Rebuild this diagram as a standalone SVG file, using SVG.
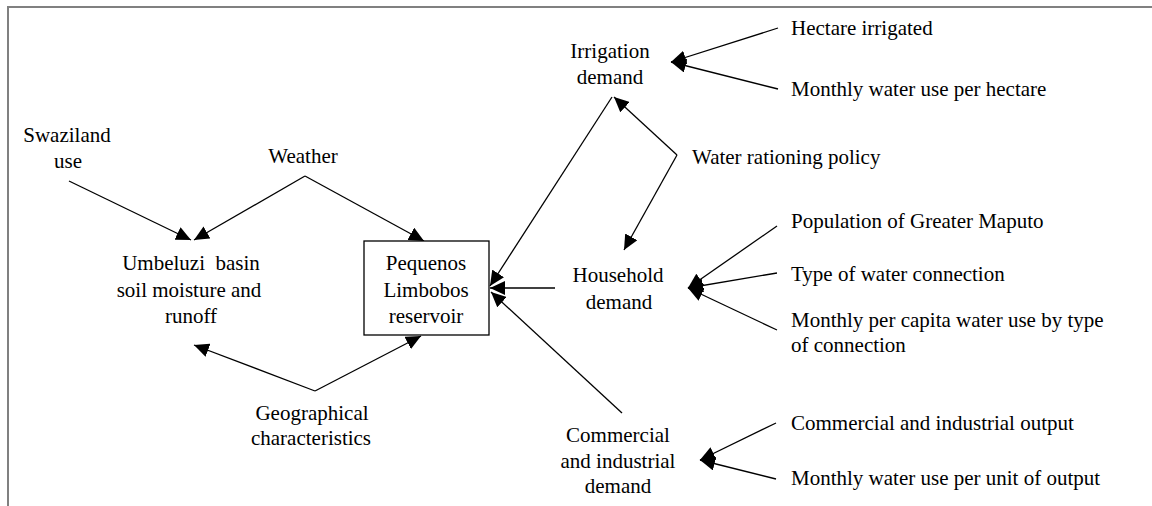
<svg xmlns="http://www.w3.org/2000/svg" width="1152" height="506" viewBox="0 0 1152 506">
<style>
text{font-size:21px;fill:#000}
.c{text-anchor:middle}
.e{stroke:#000;stroke-width:1.3;fill:none}
.frame{stroke:#808080;stroke-width:2;fill:none}
</style>
<defs>
<marker id="ah" viewBox="0 0 15 14" refX="15" refY="7" markerWidth="15" markerHeight="14" markerUnits="userSpaceOnUse" orient="auto">
<path d="M0,0 L15,7 L0,14 z" fill="#000"/>
</marker>
</defs>
<path class="frame" d="M8,506 L8,7 L1152,7"/>
<g id="connectors" class="e" marker-end="url(#ah)">
<line x1="69" y1="181" x2="191" y2="240"/>
<line x1="305" y1="176" x2="194" y2="240"/>
<line x1="305" y1="176" x2="424" y2="241"/>
<line x1="315" y1="391" x2="194" y2="345"/>
<line x1="315" y1="391" x2="421" y2="336"/>
<line x1="612" y1="97" x2="490" y2="286"/>
<line x1="555" y1="288" x2="490" y2="288"/>
<line x1="622" y1="413" x2="491" y2="292"/>
<line x1="677" y1="155" x2="614" y2="97"/>
<line x1="677" y1="155" x2="624" y2="250"/>
<line x1="778" y1="28" x2="671" y2="62"/>
<line x1="778" y1="89" x2="671" y2="62"/>
<line x1="777" y1="226" x2="688" y2="288"/>
<line x1="777" y1="273" x2="688" y2="288"/>
<line x1="777" y1="330" x2="688" y2="288"/>
<line x1="776" y1="423" x2="700" y2="460"/>
<line x1="776" y1="479" x2="700" y2="460"/>
</g>
<g font-family="Liberation Serif, Times New Roman, DejaVu Serif, serif">
<g id="swaziland"><text class="c" x="67" y="142">Swaziland</text><text class="c" x="68" y="168">use</text></g>
<g id="weather"><text class="c" x="303" y="163">Weather</text></g>
<g id="umbeluzi"><text class="c" x="191" y="270" xml:space="preserve">Umbeluzi  basin</text><text class="c" x="189" y="297">soil moisture and</text><text class="c" x="191" y="323">runoff</text></g>
<g id="reservoir"><rect x="364" y="241" width="125" height="94" fill="#fff" stroke="#000" stroke-width="1.3"/><text class="c" x="426" y="270">Pequenos</text><text class="c" x="426" y="297">Limbobos</text><text class="c" x="426" y="323">reservoir</text></g>
<g id="geographical"><text class="c" x="312" y="420">Geographical</text><text class="c" x="311" y="445">characteristics</text></g>
<g id="irrigation"><text class="c" x="610" y="58">Irrigation</text><text class="c" x="610" y="84">demand</text></g>
<g id="rationing"><text x="692" y="164">Water rationing policy</text></g>
<g id="household"><text class="c" x="618" y="282">Household</text><text class="c" x="619" y="309">demand</text></g>
<g id="commercial"><text class="c" x="618" y="442">Commercial</text><text class="c" x="618" y="468">and industrial</text><text class="c" x="618" y="493">demand</text></g>
<g id="hectare"><text x="791" y="35">Hectare irrigated</text></g>
<g id="waterhectare"><text x="791" y="96">Monthly water use per hectare</text></g>
<g id="population"><text x="791" y="228">Population of Greater Maputo</text></g>
<g id="connection"><text x="791" y="281">Type of water connection</text></g>
<g id="percapita"><text x="791" y="327">Monthly per capita water use by type</text><text x="791" y="352">of connection</text></g>
<g id="output"><text x="791" y="430">Commercial and industrial output</text></g>
<g id="perunit"><text x="791" y="485">Monthly water use per unit of output</text></g>
</g>
</svg>
